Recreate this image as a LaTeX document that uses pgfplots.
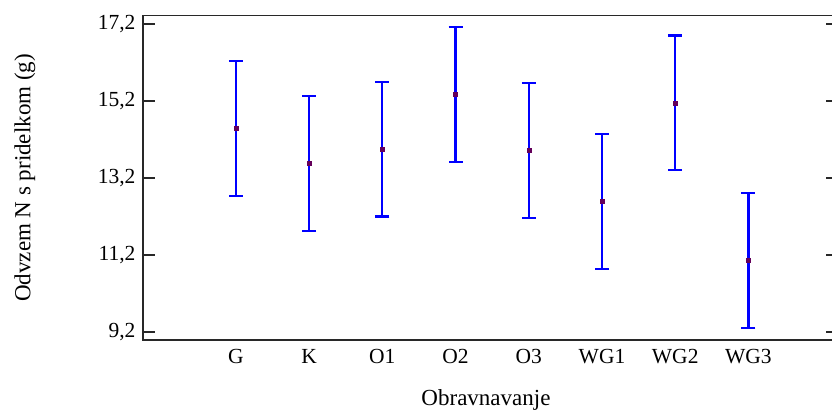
\documentclass[border=0pt]{standalone}
\usepackage{pgfplots}
\pgfplotsset{compat=1.18}
\usepackage{fontspec}
\setmainfont{Liberation Serif}
\definecolor{meanc}{RGB}{100,0,90}
\definecolor{axc}{RGB}{40,40,40}
\pgfplotstableread{
x y e
0 14.49 1.75
1 13.58 1.75
2 13.95 1.75
3 15.37 1.75
4 13.92 1.75
5 12.59 1.75
6 15.15 1.75
7 11.06 1.75
}\datatab
\begin{document}
\begin{tikzpicture}
\useasboundingbox (-143pt,-70pt) rectangle (689pt,340pt);
\begin{axis}[
  at={(0pt,0pt)}, anchor=south west,
  scale only axis,
  width=695pt, height=324.3pt,
  xmin=-1.269, xmax=8.223,
  ymin=8.992, ymax=17.416,
  xtick={0,1,2,3,4,5,6,7},
  xticklabels={G,K,O1,O2,O3,WG1,WG2,WG3},
  ytick={9.2,11.2,13.2,15.2,17.2},
  /pgf/number format/use comma,
  /pgf/number format/fixed,
  /pgf/number format/fixed zerofill,
  /pgf/number format/precision=1,
  /pgf/number format/assume math mode=true,
  tick label style={font=\fontsize{21.5}{25}\selectfont},
  yticklabel style={xshift=-4pt},
  xticklabel style={yshift=-6pt},
  major x tick style={draw=none},
  major tick length=12pt,
  tick align=inside,
  ytick pos=both,
  axis line style={axc, line width=1.5pt},
  major y tick style={axc, line width=1.5pt},
  xlabel={Obravnavanje},
  ylabel={Odvzem N s pridelkom (g)},
  label style={font=\fontsize{23}{27}\selectfont},
  xlabel style={at={(axis description cs:0.4935,0)}, anchor=north, yshift=-46pt},
  ylabel style={at={(axis description cs:-0.1698,0.5)}, anchor=center},
  clip=false,
]
\addplot[draw=none, mark=none, forget plot,
  error bars/.cd, y dir=both, y explicit,
  error mark=|,
  error bar style={draw=blue, line width=2.2pt},
  error mark options={draw=blue, mark size=7pt, line width=2.2pt}]
  table[x=x, y=y, y error=e] {\datatab};
\addplot[only marks, mark=square*, mark size=2pt, draw=meanc, fill=meanc]
  table[x=x, y=y] {\datatab};
\end{axis}
\end{tikzpicture}
\end{document}
